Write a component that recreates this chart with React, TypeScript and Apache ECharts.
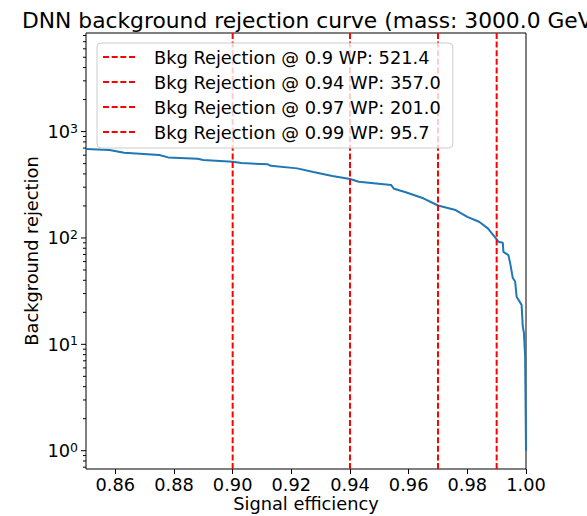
import React, { useEffect, useRef } from 'react';
import * as echarts from 'echarts';

// ROC curve: signal efficiency vs background rejection
const sigEff = [
  0.85, 0.858, 0.863, 0.875, 0.878, 0.888, 0.89, 0.9, 0.903, 0.912, 0.913, 0.922,
  0.9275, 0.934, 0.94, 0.943, 0.954, 0.955, 0.959, 0.965, 0.97, 0.976, 0.98, 0.984,
  0.987, 0.99, 0.9906, 0.9921, 0.9923, 0.994, 0.9946, 0.9955, 0.9963, 0.9968, 0.9985,
  0.9989, 0.9993, 0.9997, 1.0,
];
const bkgRej = [
  685, 670, 632, 602, 572, 555, 540, 521, 506, 492, 477, 451,
  417, 382, 358, 338, 315, 290, 269, 236, 202, 183, 158, 142,
  123, 97, 92, 90, 74, 69, 58, 42, 39, 28, 23.5,
  14.7, 12.8, 7.7, 1.0,
];

// working points
const wpEff = [0.9, 0.94, 0.97, 0.99];
const wpRej = [521.4, 357.0, 201.0, 95.7];

// ticks
const xTicks = [0.86, 0.88, 0.9, 0.92, 0.94, 0.96, 0.98, 1.0];
const yMajor = [1, 10, 100, 1000];
const yMinor = [
  0.7, 0.8, 0.9, 2, 3, 4, 5, 6, 7, 8, 9, 20, 30, 40, 50, 60, 70, 80, 90,
  200, 300, 400, 500, 600, 700, 800, 900, 2000, 3000, 4000, 5000, 6000, 7000, 8000,
];

const X_MIN = 0.85;
const X_MAX = 1.0;
const Y_MIN = 0.673;
const Y_MAX = 8450;

const FONT = 'DejaVu Sans';
const FS = 17.8;

// dashed legend handle (4 dashes, aspect 32:2)
const DASH_ICON = 'path://M0,0h18v6h-18z M26,0h18v6h-18z M52,0h18v6h-18z M78,0h18v6h-18z';

export default function App() {
  const ref = useRef<HTMLDivElement>(null);

  useEffect(() => {
    if (!ref.current) return;
    const chart = echarts.init(ref.current, null, { renderer: 'svg' });
    const wpNames = wpEff.map((e, i) => `Bkg Rejection @ ${e} WP: ${wpRej[i].toFixed(1)}`);

    const tickData = [
      ...yMajor.map((v) => [X_MIN, v, 5]),
      ...yMinor.map((v) => [X_MIN, v, 3]),
    ];

    const option: any = {
      animation: false,
      backgroundColor: '#ffffff',
      textStyle: { fontFamily: FONT },
      title: {
        text: 'DNN background rejection curve (mass: 3000.0 GeV)',
        left: 17,
        textAlign: 'left',
        top: 4,
        textStyle: { fontFamily: FONT, fontSize: 21.8, fontWeight: 'normal', color: '#000' },
      },
      grid: {
        left: 86,
        right: 61,
        top: 33,
        bottom: 47,
        show: true,
        borderColor: '#000',
        borderWidth: 1,
        backgroundColor: 'transparent',
        containLabel: false,
        outerBoundsMode: 'none',
      },
      legend: {
        data: wpNames.map((n) => ({ name: n, icon: DASH_ICON })),
        orient: 'vertical',
        left: 97,
        top: 43,
        itemWidth: 32,
        itemHeight: 2,
        itemGap: 5,
        padding: [4, 12, 6, 6],
        backgroundColor: 'rgba(255,255,255,0.8)',
        borderColor: '#cccccc',
        borderWidth: 1,
        borderRadius: 4,
        selectedMode: false,
        itemStyle: { color: '#ff0000', borderWidth: 0 },
        textStyle: { fontFamily: FONT, fontSize: FS, color: '#000', lineHeight: 20, padding: [0, 0, 0, 14] },
      },
      xAxis: {
        type: 'value',
        min: X_MIN,
        max: X_MAX,
        name: 'Signal efficiency',
        nameLocation: 'middle',
        nameGap: 25,
        nameMoveOverlap: false,
        nameTextStyle: { fontFamily: FONT, fontSize: FS, color: '#000' },
        axisLine: { show: false },
        splitLine: { show: false },
        axisTick: { show: true, length: 5, lineStyle: { color: '#000' }, customValues: xTicks },
        axisLabel: {
          customValues: xTicks,
          margin: 6,
          lineHeight: 18,
          fontFamily: FONT,
          fontSize: FS,
          color: '#000',
          formatter: (v: number) => v.toFixed(2),
        },
      },
      yAxis: {
        type: 'log',
        logBase: 10,
        min: Y_MIN,
        max: Y_MAX,
        name: 'Background rejection',
        nameLocation: 'middle',
        nameGap: 45.5,
        nameMoveOverlap: false,
        nameTextStyle: { fontFamily: FONT, fontSize: FS, color: '#000' },
        axisLine: { show: false },
        splitLine: { show: false },
        axisTick: { show: false },
        axisLabel: {
          margin: 8,
          showMinLabel: false,
          showMaxLabel: false,
          formatter: (v: number) => {
            const l = Math.log10(v);
            const e = Math.round(l);
            if (Math.abs(l - e) > 1e-6) return '';
            return `{b|10}{s|${e}}`;
          },
          rich: {
            b: { fontFamily: FONT, fontSize: FS, color: '#000', lineHeight: 20 },
            s: { fontFamily: FONT, fontSize: 12.5, color: '#000', verticalAlign: 'top', lineHeight: 14 },
          },
        },
      },
      series: [
        {
          name: 'ROC',
          type: 'line',
          data: sigEff.map((x, i) => [x, bkgRej[i]]),
          symbol: 'none',
          lineStyle: { color: '#1f77b4', width: 2 },
          itemStyle: { color: '#1f77b4' },
          z: 2,
          silent: true,
        },
        ...wpEff.map((e, i) => ({
          name: wpNames[i],
          type: 'line',
          data: [[e, Y_MIN], [e, Y_MAX]],
          symbol: 'none',
          lineStyle: { color: '#ff0000', width: 2, type: [6, 2.6] },
          itemStyle: { color: '#ff0000' },
          z: 3,
          silent: true,
        })),
        {
          name: 'yticks',
          type: 'custom',
          data: tickData,
          clip: false,
          silent: true,
          z: 5,
          renderItem: (params: any, api: any) => {
            const p = api.coord([api.value(0), api.value(1)]);
            const len = api.value(2);
            return {
              type: 'line',
              shape: { x1: p[0] - len, y1: p[1], x2: p[0], y2: p[1] },
              style: { stroke: '#000', lineWidth: 1 },
            };
          },
        },
      ],
    };

    chart.setOption(option);
    return () => chart.dispose();
  }, []);

  return (
    <div
      ref={ref}
      style={{ position: 'fixed', left: 0, top: 0, width: 587, height: 516, background: '#fff' }}
    />
  );
}
